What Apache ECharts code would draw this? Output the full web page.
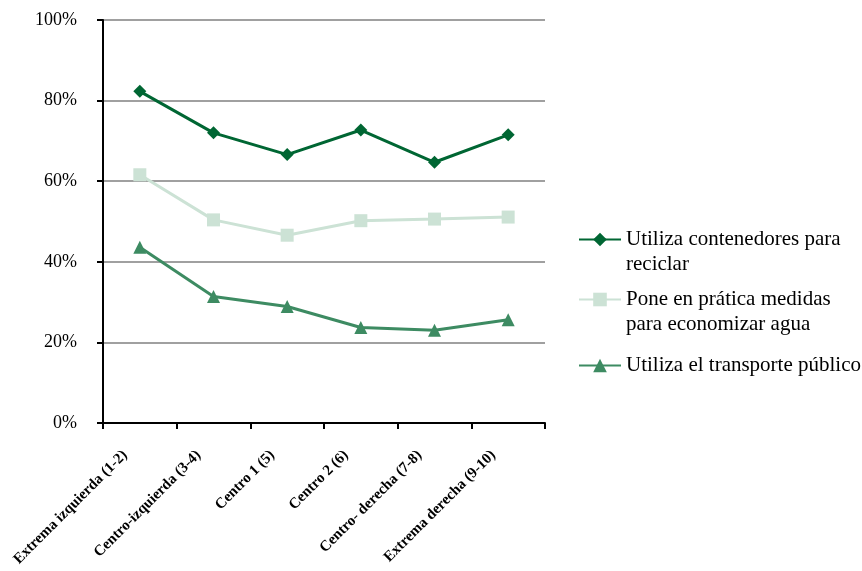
<!DOCTYPE html>
<html>
<head>
<meta charset="utf-8">
<script src="https://cdn.jsdelivr.net/npm/echarts@6/dist/echarts.min.js"></script>
<style>
html,body{margin:0;padding:0;background:#fff;}
#main{width:862px;height:571px;}
</style>
</head>
<body>
<div id="main"></div>
<script>
const categories = ['Extrema izquierda (1-2)', 'Centro-izquierda (3-4)', 'Centro 1 (5)', 'Centro 2 (6)', 'Centro- derecha (7-8)', 'Extrema derecha (9-10)'];
const seriesNames = ['Utiliza contenedores para reciclar', 'Pone en prática medidas para economizar agua', 'Utiliza el transporte público'];
const legendLabels = ['\nUtiliza contenedores para\nreciclar', '\nPone en prática medidas\npara economizar agua', 'Utiliza el transporte público'];
const reciclar = [82.3, 72.0, 66.6, 72.7, 64.7, 71.5];
const agua = [61.6, 50.4, 46.6, 50.2, 50.6, 51.1];
const transporte = [43.6, 31.4, 28.9, 23.7, 23.0, 25.6];
const yTicks = [0, 20, 40, 60, 80, 100];

const colors = ['#006633', '#cce2d5', '#3d8b62'];
const symbols = ['diamond', 'rect', 'triangle'];
const symbolSizes = [13, 13, 13];
const dataSets = [reciclar, agua, transporte];
const legendTops = [202, 262, 353];

const chart = echarts.init(document.getElementById('main'), null, {renderer: 'canvas'});
const font = '"Liberation Serif", "Times New Roman", serif';

const legends = seriesNames.map((name, i) => ({
  data: [name],
  orient: 'vertical',
  left: 578,
  top: legendTops[i],
  padding: 0,
  itemWidth: 42,
  itemHeight: 17,
  itemGap: 5,
  selectedMode: false,
  formatter: () => legendLabels[i],
  textStyle: {fontFamily: font, fontSize: 21, color: '#000', lineHeight: 25}
}));

chart.setOption({
  animation: false,
  backgroundColor: '#fff',
  grid: {left: 103, right: 317, top: 20, bottom: 148, containLabel: false, outerBoundsMode: 'none'},
  legend: legends,
  xAxis: {
    type: 'category',
    data: categories,
    boundaryGap: true,
    axisLine: {lineStyle: {color: '#000', width: 2}},
    axisTick: {show: true, alignWithLabel: false, length: 6, lineStyle: {color: '#000', width: 2}},
    axisLabel: {
      interval: 0,
      rotate: 45,
      margin: 15,
      padding: [0, 21, 0, 0],
      fontFamily: font,
      fontWeight: 'bold',
      fontSize: 15,
      color: '#000'
    },
    splitLine: {show: false}
  },
  yAxis: {
    type: 'value',
    min: yTicks[0],
    max: yTicks[yTicks.length - 1],
    interval: 20,
    axisLine: {show: true, lineStyle: {color: '#000', width: 2}},
    axisTick: {show: true, length: 6, lineStyle: {color: '#000', width: 2}},
    axisLabel: {
      margin: 26,
      formatter: v => v + '%',
      fontFamily: font,
      fontSize: 18,
      color: '#000'
    },
    splitLine: {show: true, lineStyle: {color: '#a0a0a0', width: 2}}
  },
  series: seriesNames.map((name, i) => ({
    name: name,
    type: 'line',
    data: dataSets[i],
    symbol: symbols[i],
    symbolSize: symbolSizes[i],
    showAllSymbol: true,
    lineStyle: {color: colors[i], width: 3},
    itemStyle: {color: colors[i], borderWidth: 0},
    emphasis: {disabled: true},
    z: 3 - i + 2
  }))
});
</script>
</body>
</html>
